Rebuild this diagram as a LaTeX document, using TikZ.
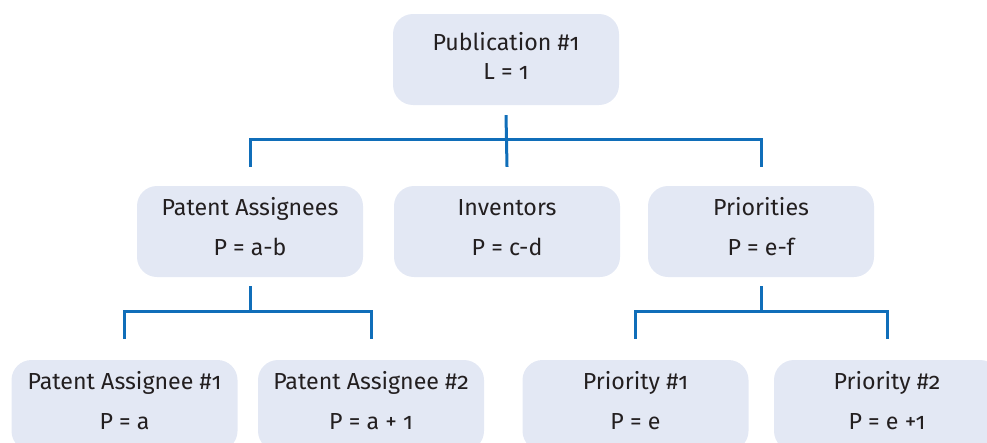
\documentclass[tikz,border=0pt]{standalone}
\usepackage{fontspec}
\setmainfont{Fira Sans}[Numbers=OldStyle]
\definecolor{boxfill}{RGB}{227,232,244}
\definecolor{linkblue}{RGB}{16,110,185}
\definecolor{ink}{RGB}{35,31,32}
\tikzset{
  box/.style={fill=boxfill, rounded corners=20pt, minimum width=226pt, minimum height=91pt, inner sep=0pt},
  txt/.style={anchor=base, text=ink, font=\fontsize{23.2}{27}\selectfont, inner sep=0pt},
  link/.style={draw=linkblue, line width=3pt}
}

\begin{document}
\begin{tikzpicture}[x=1pt,y=-1pt]
      \useasboundingbox (0,0) rectangle (987,442);
      \clip (0,0) rectangle (987,442);
      % top
      \node[box] (pub) at (506,59.5) {};
      \node[txt] (pub1) at (506,50) {Publication \#1};
      \node[txt] (pub2) at (506,79) {L = 1};
      % middle row
      \node[box] (assg) at (250,231.5) {};
      \node[txt] (assg1) at (250,215) {Patent Assignees};
      \node[txt] (assg2) at (250,255) {P = a-b};
      \node[box] (inv) at (507,231.5) {};
      \node[txt] (inv1) at (507,215) {Inventors};
      \node[txt] (inv2) at (507,255) {P = c-d};
      \node[box] (prio) at (761,231.5) {};
      \node[txt] (prio1) at (761,215) {Priorities};
      \node[txt] (prio2) at (761,255) {P = e-f};
      % bottom row
      \node[box] (pa1) at (124.5,405.5) {};
      \node[txt] (pa1a) at (124.5,389) {Patent Assignee \#1};
      \node[txt] (pa1b) at (124.5,429) {P = a};
      \node[box] (pa2) at (371,405.5) {};
      \node[txt] (pa2a) at (371,389) {Patent Assignee \#2};
      \node[txt] (pa2b) at (371,429) {P = a + 1};
      \node[box] (pr1) at (635.5,405.5) {};
      \node[txt] (pr1a) at (635.5,389) {Priority \#1};
      \node[txt] (pr1b) at (635.5,429) {P = e};
      \node[box] (pr2) at (887,405.5) {};
      \node[txt] (pr2a) at (887,389) {Priority \#2};
      \node[txt] (pr2b) at (887,429) {P = e +1};
      % brackets
      \coordinate (fork1) at (506,139);
      \draw[link] ([yshift=-10pt]pub.south) -- ([yshift=19pt]inv.north);
      \draw[link] ([yshift=19pt]assg.north) |- (fork1) -| ([yshift=19pt]prio.north);
      \coordinate (fork2) at (250,311);
      \draw[link] ([yshift=-9pt]assg.south) -- (fork2);
      \draw[link] ([yshift=21pt]pa1.north) |- (fork2) -| ([yshift=21pt]pa2.north);
      \coordinate (fork3) at (761,311);
      \draw[link] ([yshift=-9pt]prio.south) -- (fork3);
      \draw[link] ([yshift=21pt]pr1.north) |- (fork3) -| ([yshift=21pt]pr2.north);
\end{tikzpicture}
\end{document}
